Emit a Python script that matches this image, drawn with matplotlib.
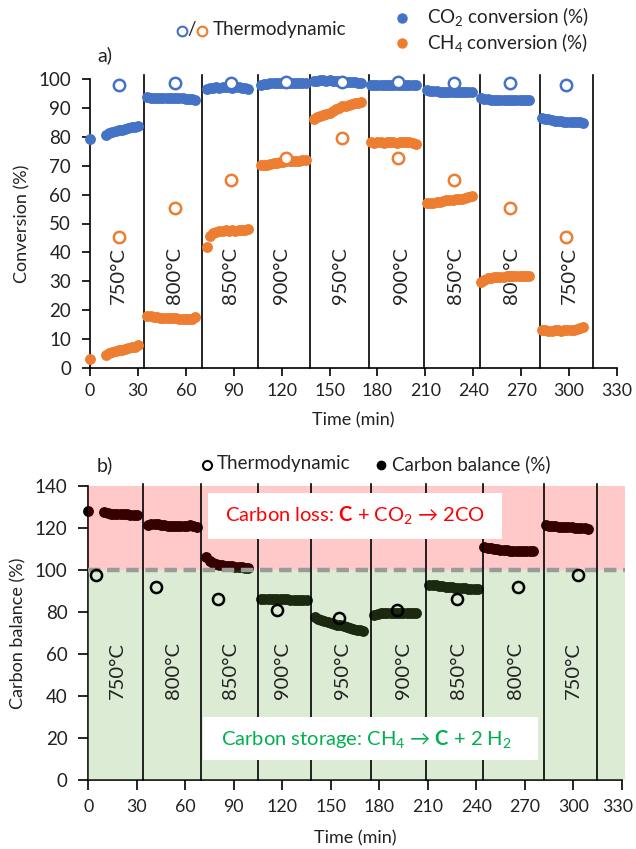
import numpy as np
import matplotlib
matplotlib.use("Agg")
import matplotlib.pyplot as plt
import matplotlib.transforms as mtransforms
from matplotlib.lines import Line2D
from matplotlib.patches import Rectangle

plt.rcParams['font.family'] = ['Lato', 'DejaVu Sans']
plt.rcParams['mathtext.fontset'] = 'custom'
plt.rcParams['mathtext.rm'] = 'Lato'
plt.rcParams['mathtext.bf'] = 'Lato:bold'
plt.rcParams['mathtext.it'] = 'Lato:italic'
plt.rcParams['mathtext.fallback'] = 'stixsans'

# ---- data ----
temps = ['750°C', '800°C', '850°C', '900°C', '950°C', '900°C', '850°C', '800°C', '750°C']
temp_label_x = [18, 53, 88, 120, 157, 195, 229, 264, 300]
step_edges = [34, 70, 105, 138, 175, 209, 244, 282, 315]

# top panel: time and conversions
time_a = ([0] +
          [10, 12, 14, 16, 18, 20, 22, 24, 26, 28, 30] +
          [36, 38, 40, 42, 44, 46, 48, 50, 52, 54, 56, 58, 60, 62, 64, 66] +
          [73, 75, 77, 79, 81, 83, 85, 87, 89, 91, 93, 95, 97, 99] +
          [107, 109, 111, 113, 115, 117, 119, 121, 123, 125, 127, 129, 131, 133, 135] +
          [140, 142, 144, 146, 148, 150, 152, 154, 156, 158, 160, 162, 164, 166, 168, 170] +
          [176, 178, 180, 182, 184, 186, 188, 190, 192, 194, 196, 198, 200, 202, 204] +
          [211, 213, 215, 217, 219, 221, 223, 225, 227, 229, 231, 233, 235, 237, 239] +
          [245, 247, 249, 251, 253, 255, 257, 259, 261, 263, 265, 267, 269, 271, 273, 275] +
          [283, 285, 287, 289, 291, 293, 295, 297, 299, 301, 303, 305, 307, 309])

co2_conv = ([79.3] +
            [80.5, 81.2, 81.6, 81.9, 82.2, 82.5, 82.8, 83.0, 83.3, 83.5, 83.6] +
            [93.6, 93.5, 93.4, 93.4, 93.5, 93.4, 93.3, 93.4, 93.4, 93.3, 93.3, 93.4, 93.2, 93.1, 93.0, 92.6] +
            [96.6, 96.9, 97.0, 97.1, 97.0, 97.1, 97.2, 97.1, 97.0, 97.1, 97.1, 97.0, 96.8, 96.6] +
            [98.0, 98.3, 98.4, 98.5, 98.6, 98.5, 98.6, 98.7, 98.6, 98.5, 98.6, 98.7, 98.6, 98.6, 98.5] +
            [99.3, 99.4, 99.5, 99.5, 99.4, 99.5, 99.4, 99.3, 99.3, 99.2, 99.0, 98.9, 98.8, 98.8, 98.7, 98.7] +
            [97.9, 98.0, 97.9, 97.9, 98.0, 97.9, 97.8, 97.9, 98.0, 97.9, 97.9, 97.8, 97.9, 98.0, 97.9] +
            [96.3, 96.0, 95.8, 95.7, 95.6, 95.5, 95.5, 95.6, 95.5, 95.5, 95.4, 95.5, 95.5, 95.4, 95.4] +
            [93.3, 93.2, 93.0, 92.9, 92.8, 92.8, 92.7, 92.8, 92.7, 92.8, 92.7, 92.7, 92.8, 92.7, 92.8, 92.8] +
            [86.6, 86.3, 86.0, 85.8, 85.6, 85.5, 85.3, 85.2, 85.1, 85.1, 85.0, 85.0, 85.0, 84.9])

ch4_conv = ([3.2] +
            [4.6, 5.2, 5.6, 5.9, 6.1, 6.4, 6.6, 6.8, 7.1, 7.4, 7.8] +
            [18.1, 17.9, 17.6, 17.5, 17.4, 17.3, 17.4, 17.2, 17.3, 17.2, 17.0, 17.1, 17.1, 17.0, 17.1, 17.5] +
            [42.0, 45.8, 46.6, 47.1, 47.4, 47.5, 47.6, 47.5, 47.6, 47.5, 47.6, 47.7, 47.8, 48.2] +
            [70.1, 70.3, 70.4, 70.6, 70.8, 71.0, 71.2, 71.4, 71.5, 71.6, 71.6, 71.7, 71.7, 71.8, 71.9] +
            [86.3, 86.8, 87.3, 87.6, 87.9, 88.4, 89.0, 89.6, 90.1, 90.5, 90.8, 91.1, 91.4, 91.6, 91.8, 92.0] +
            [78.3, 78.0, 78.1, 78.2, 78.0, 78.1, 78.3, 78.2, 78.0, 78.1, 78.2, 78.3, 78.1, 77.9, 77.6] +
            [57.0, 57.1, 57.2, 57.4, 57.6, 57.8, 58.0, 58.2, 58.3, 58.4, 58.5, 58.6, 58.8, 59.0, 59.4] +
            [29.8, 30.6, 31.0, 31.3, 31.4, 31.5, 31.6, 31.6, 31.7, 31.8, 31.8, 31.9, 32.0, 32.0, 31.9, 31.9] +
            [13.0, 13.0, 12.9, 12.9, 13.0, 13.0, 12.9, 13.0, 13.0, 13.1, 13.2, 13.4, 13.7, 14.2])

thermo_time_a = [18, 53, 88, 123, 158, 193, 228, 263, 298]
thermo_co2 = [98.0, 98.5, 98.5, 99.0, 99.0, 99.0, 98.5, 98.5, 98.0]
thermo_ch4 = [45.5, 55.5, 65.0, 72.5, 79.5, 72.5, 65.0, 55.5, 45.5]

# bottom panel: carbon balance
time_b = ([0] +
          [10, 12, 14, 16, 18, 20, 22, 24, 26, 28, 30] +
          [37, 39, 41, 43, 45, 47, 49, 51, 53, 55, 57, 59, 61, 63, 65, 67] +
          [73, 75, 77, 79, 81, 83, 85, 87, 89, 91, 93, 95, 97, 99] +
          [107, 109, 111, 113, 115, 117, 119, 121, 123, 125, 127, 129, 131, 133, 135] +
          [140, 142, 144, 146, 148, 150, 152, 154, 156, 158, 160, 162, 164, 166, 168, 170] +
          [177, 179, 181, 183, 185, 187, 189, 191, 193, 195, 197, 199, 201, 203] +
          [211, 213, 215, 217, 219, 221, 223, 225, 227, 229, 231, 233, 235, 237, 239, 241] +
          [245, 247, 249, 251, 253, 255, 257, 259, 261, 263, 265, 267, 269, 271, 273, 275] +
          [283, 285, 287, 289, 291, 293, 295, 297, 299, 301, 303, 305, 307, 309])

carbon_balance = ([128.0] +
                  [127.8, 127.0, 126.7, 126.6, 126.7, 126.5, 126.6, 126.5, 126.4, 126.2, 126.0] +
                  [121.5, 121.8, 121.9, 121.7, 121.5, 121.3, 121.1, 121.0, 121.0, 121.0, 120.9, 121.0, 121.1, 121.4, 120.8, 120.3] +
                  [106.3, 104.3, 103.5, 103.0, 102.6, 102.3, 102.0, 101.9, 101.8, 101.6, 101.5, 101.3, 101.1, 100.8] +
                  [86.0, 86.2, 86.3, 86.4, 86.3, 86.2, 86.1, 86.0, 86.0, 85.9, 85.9, 85.8, 85.8, 85.8, 85.7] +
                  [77.5, 76.7, 76.1, 75.6, 75.2, 74.8, 74.4, 74.0, 73.6, 73.2, 72.7, 72.3, 71.9, 71.6, 71.3, 71.0] +
                  [78.8, 79.1, 79.3, 79.4, 79.4, 79.5, 79.5, 79.4, 79.5, 79.6, 79.6, 79.5, 79.6, 79.7] +
                  [93.0, 92.8, 92.7, 92.5, 92.3, 92.1, 91.9, 91.8, 91.6, 91.5, 91.4, 91.2, 91.1, 91.0, 90.9, 90.8] +
                  [110.9, 110.7, 110.4, 110.2, 109.9, 109.7, 109.5, 109.3, 109.1, 109.0, 108.9, 108.9, 108.9, 108.9, 109.0, 109.0] +
                  [121.2, 121.0, 120.8, 120.8, 120.6, 120.5, 120.4, 120.3, 120.3, 120.2, 120.1, 120.0, 119.8, 119.6])

thermo_time_b = [5, 42, 80, 117, 155, 191, 228, 266, 303]
thermo_cb = [97.5, 92.0, 86.0, 81.0, 77.0, 81.0, 86.0, 92.0, 97.5]

BLUE = '#4472C4'
ORANGE = '#ED7D31'
TXT = '#222222'
W, H = 636, 849
FS = 13.5

fig = plt.figure(figsize=(W / 100, H / 100), dpi=100)


def fx(x):
    return x / W


def fy(y):
    return 1 - y / H


def style_axes(ax, ymax, ystep, tick_len, xpad, lpad):
    for s in ['top', 'right']:
        ax.spines[s].set_visible(False)
    for s in ['left', 'bottom']:
        ax.spines[s].set_linewidth(1.2)
    ax.set_xlim(0, 330)
    ax.set_ylim(0, ymax)
    ax.set_xticks(np.arange(0, 331, 30))
    ax.set_yticks(np.arange(0, ymax + 1, ystep))
    ax.tick_params(direction='out', length=tick_len, width=1.2, labelsize=FS,
                   colors='#000000', labelcolor=TXT)
    ax.tick_params(axis='x', labelsize=12.8, pad=xpad)
    ax.tick_params(axis='y', pad=8)
    ax.set_xlabel('Time (min)', fontsize=FS - 0.5, color=TXT, labelpad=lpad)


# ---------------- panel a ----------------
ax1 = fig.add_axes([fx(90), fy(368), fx(617 - 90), (368 - 79) / H])
style_axes(ax1, 100, 10, 5.5, 5, 10)
ax1.set_ylabel('Conversion (%)', fontsize=FS - 0.5, color=TXT, labelpad=6)

for xe in step_edges:
    ax1.plot([xe, xe], [0, 101.5], color='black', lw=1.2, clip_on=False, zorder=1)
for xl, t in zip(temp_label_x, temps):
    ax1.text(xl, 32, t, rotation=90, ha='center', va='center', fontsize=14.5, color=TXT)

ax1.plot(time_a, co2_conv, 'o', color=BLUE, ms=6.8, mec=BLUE, clip_on=False, zorder=3)
ax1.plot(time_a, ch4_conv, 'o', color=ORANGE, ms=6.8, mec=ORANGE, clip_on=False, zorder=3)
ax1.plot(thermo_time_a, thermo_co2, 'o', mfc='white', mec=BLUE, mew=1.8, ms=8.2, clip_on=False, zorder=4)
ax1.plot(thermo_time_a, thermo_ch4, 'o', mfc='white', mec=ORANGE, mew=1.8, ms=8.2, clip_on=False, zorder=4)

fig.text(fx(97), fy(55), 'a)', fontsize=FS + 0.5, va='center', ha='left', color=TXT)
# legend of panel a
fig.add_artist(Line2D([fx(182)], [fy(31)], marker='o', mfc='none', mec=BLUE, mew=1.5, ms=7))
fig.text(fx(187), fy(30), '/', fontsize=FS, va='center', ha='left', color=TXT)
fig.add_artist(Line2D([fx(202)], [fy(31)], marker='o', mfc='none', mec=ORANGE, mew=1.5, ms=7))
fig.text(fx(213), fy(29), 'Thermodynamic', fontsize=FS, va='center', ha='left', color=TXT)
fig.add_artist(Line2D([fx(402)], [fy(18)], marker='o', color=BLUE, ms=6.5))
fig.text(fx(427), fy(17), 'CO$_2$ conversion (%)', fontsize=FS, va='center', ha='left', color=TXT)
fig.add_artist(Line2D([fx(402)], [fy(43)], marker='o', color=ORANGE, ms=6.5))
fig.text(fx(427), fy(42), 'CH$_4$ conversion (%)', fontsize=FS, va='center', ha='left', color=TXT)

# ---------------- panel b ----------------
ax2 = fig.add_axes([fx(88.3), fy(780), fx(621.7 - 88.3), (780 - 486) / H])
style_axes(ax2, 140, 20, 7, 7, 11)
ax2.set_ylabel('Carbon balance (%)', fontsize=FS - 0.5, color=TXT, labelpad=6)
# nudge the last tick label a little so it stays inside the canvas
last = ax2.xaxis.get_major_ticks()[-1].label1
last.set_transform(last.get_transform() + mtransforms.ScaledTranslation(-0.04, 0, fig.dpi_scale_trans))

ax2.plot(time_b, carbon_balance, 'o', color='black', ms=6.8, clip_on=False, zorder=2)
# translucent shading drawn over the markers
ax2.add_patch(Rectangle((0, 100), 332, 40, facecolor='#FF0000', alpha=0.21, lw=0,
                        clip_on=False, zorder=3))
ax2.add_patch(Rectangle((0, 0), 332, 100, facecolor='#70AD47', alpha=0.24, lw=0,
                        clip_on=False, zorder=3))
ax2.plot([0, 332], [100, 100], color='#979c97', lw=3.2, dashes=(2.8, 1.5), clip_on=False, zorder=4)

for xe in step_edges:
    ax2.plot([xe, xe], [0, 141], color='black', lw=1.2, clip_on=False, zorder=5)
for xl, t in zip(temp_label_x, temps):
    ax2.text(xl, 52, t, rotation=90, ha='center', va='center', fontsize=14.5,
             color=TXT, zorder=6)

ax2.plot(thermo_time_b, thermo_cb, 'o', mfc='none', mec='black', mew=1.8, ms=8, clip_on=False, zorder=6)

ax2.add_patch(Rectangle((74, 115), 182, 21.7, facecolor='white', lw=0, zorder=7))
ax2.text(165, 126, r'Carbon loss: $\mathbf{C}$ + CO$_2$ → 2CO', color='#FF0000',
         fontsize=14.5, ha='center', va='center', zorder=8)
ax2.add_patch(Rectangle((71, 9.5), 207, 20.6, facecolor='white', lw=0, zorder=7))
ax2.text(172, 19.5, r'Carbon storage: CH$_4$ → $\mathbf{C}$ + 2 H$_2$', color='#00B050',
         fontsize=14.5, ha='center', va='center', zorder=8)

fig.text(fx(97), fy(465), 'b)', fontsize=FS + 0.5, va='center', ha='left', color=TXT)
fig.add_artist(Line2D([fx(207)], [fy(465)], marker='o', mfc='none', mec='black', mew=1.5, ms=6.5))
fig.text(fx(217), fy(464), 'Thermodynamic', fontsize=FS, va='center', ha='left', color=TXT)
fig.add_artist(Line2D([fx(381)], [fy(465)], marker='o', color='black', ms=6))
fig.text(fx(392), fy(464), 'Carbon balance (%)', fontsize=FS, va='center', ha='left', color=TXT)

fig.savefig('out.png', dpi=100, facecolor='white')
